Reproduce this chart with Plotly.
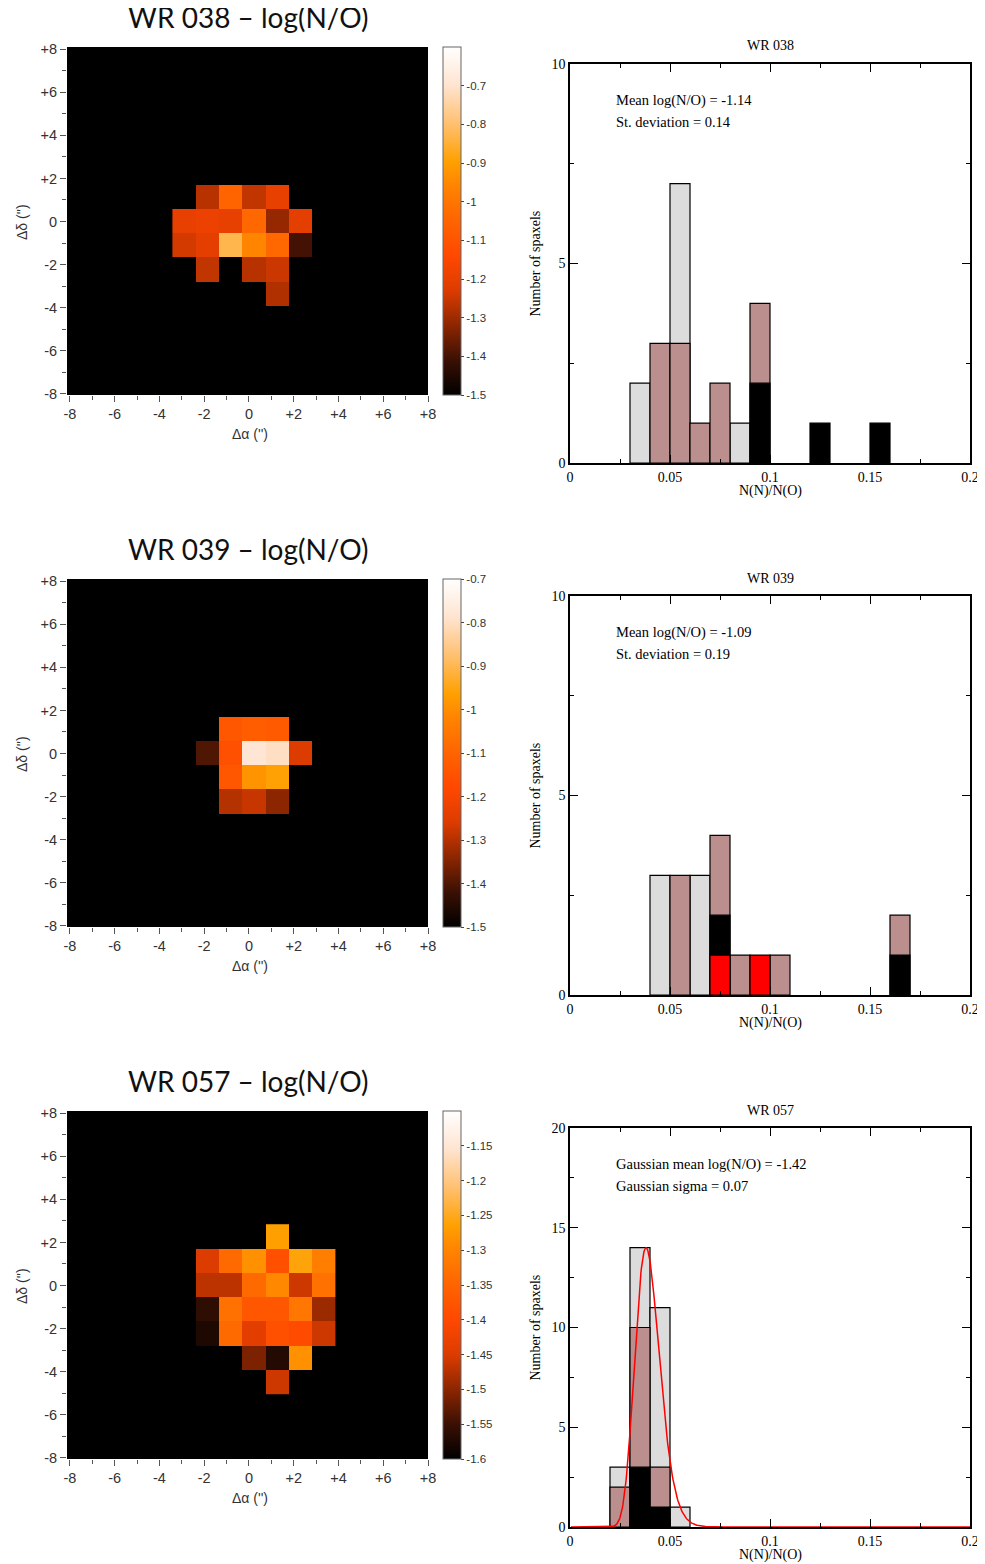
import numpy as np
import plotly.graph_objects as go

# page has an 8px body margin; figure is sized so that reference pixel p maps to p-8
PAGE_OFF = 8
W, H = 985 - PAGE_OFF, 1564 - PAGE_OFF
N = None

# ---------------- data ----------------
OBJECTS = ["WR 038", "WR 039", "WR 057"]

# log(N/O) maps, rows top->bottom, columns left->right on a common spaxel grid
MAP_038 = [
    [N, N, N, N, N, N, N],
    [N, -1.27, -1.05, -1.26, -1.20, N, N],
    [-1.20, -1.19, -1.20, -1.04, -1.31, -1.21, N],
    [-1.24, -1.21, -0.83, -0.96, -1.04, -1.40, N],
    [N, -1.26, N, -1.27, -1.25, N, N],
    [N, N, N, N, -1.28, N, N],
    [N, N, N, N, N, N, N],
]
MAP_039 = [
    [N, N, N, N, N, N, N],
    [N, N, -1.14, -1.12, -1.13, N, N],
    [N, -1.40, -1.16, -0.78, -0.80, -1.26, N],
    [N, N, -1.14, -0.99, -0.96, N, N],
    [N, N, -1.30, -1.28, -1.34, N, N],
    [N, N, N, N, N, N, N],
    [N, N, N, N, N, N, N],
]
MAP_057 = [
    [N, N, N, N, -1.265, N, N],
    [N, -1.45, -1.34, -1.285, -1.385, -1.26, -1.31],
    [N, -1.47, -1.47, -1.34, -1.295, -1.46, -1.33],
    [N, -1.56, -1.33, -1.375, -1.375, -1.32, -1.49],
    [N, -1.575, -1.34, -1.44, -1.385, -1.395, -1.46],
    [N, N, N, -1.51, -1.57, -1.285, N],
    [N, N, N, N, -1.46, N, N],
]
ZRANGES = [(-1.5, -0.6), (-1.5, -0.7), (-1.6, -1.1)]
CB_TICKS = [
    [-1.5, -1.4, -1.3, -1.2, -1.1, -1.0, -0.9, -0.8, -0.7],
    [-1.5, -1.4, -1.3, -1.2, -1.1, -1.0, -0.9, -0.8, -0.7],
    [-1.6, -1.55, -1.5, -1.45, -1.4, -1.35, -1.3, -1.25, -1.2, -1.15],
]
MAP_TICKS = [-8, -6, -4, -2, 0, 2, 4, 6, 8]
MAP_TICKTEXT = ["-8", "-6", "-4", "-2", "0", "+2", "+4", "+6", "+8"]

# histograms: counts per 0.01 bin of N(N)/N(O), bins 0.00-0.01 ... 0.19-0.20
BIN_LEFT = [round(0.01 * i, 2) for i in range(20)]
H038_GRAY  = [0, 0, 0, 2, 0, 7, 0, 0, 1, 0, 0, 0, 0, 0, 0, 0, 0, 0, 0, 0]
H038_BROWN = [0, 0, 0, 0, 3, 3, 1, 2, 0, 4, 0, 0, 0, 0, 0, 0, 0, 0, 0, 0]
H038_BLACK = [0, 0, 0, 0, 0, 0, 0, 0, 0, 2, 0, 0, 1, 0, 0, 1, 0, 0, 0, 0]
H038_RED   = [0] * 20
H039_GRAY  = [0, 0, 0, 0, 3, 0, 3, 0, 0, 0, 0, 0, 0, 0, 0, 0, 0, 0, 0, 0]
H039_BROWN = [0, 0, 0, 0, 0, 3, 0, 4, 1, 0, 1, 0, 0, 0, 0, 0, 2, 0, 0, 0]
H039_BLACK = [0, 0, 0, 0, 0, 0, 0, 2, 0, 0, 0, 0, 0, 0, 0, 0, 1, 0, 0, 0]
H039_RED   = [0, 0, 0, 0, 0, 0, 0, 1, 0, 1, 0, 0, 0, 0, 0, 0, 0, 0, 0, 0]
H057_GRAY  = [0, 0, 3, 14, 11, 1, 0, 0, 0, 0, 0, 0, 0, 0, 0, 0, 0, 0, 0, 0]
H057_BROWN = [0, 0, 2, 10, 3, 0, 0, 0, 0, 0, 0, 0, 0, 0, 0, 0, 0, 0, 0, 0]
H057_BLACK = [0, 0, 0, 3, 1, 0, 0, 0, 0, 0, 0, 0, 0, 0, 0, 0, 0, 0, 0, 0]
H057_RED   = [0] * 20
HIST_YMAX = [10, 10, 20]
STATS_TEXT = [
    ["Mean log(N/O) = -1.14", "St. deviation = 0.14"],
    ["Mean log(N/O) = -1.09", "St. deviation = 0.19"],
    ["Gaussian mean log(N/O) = -1.42", "Gaussian sigma = 0.07"],
]
GAUSS_MEAN_LOG = -1.42
GAUSS_SIGMA_LOG = 0.07
GAUSS_PEAK = 14

MAPS = [MAP_038, MAP_039, MAP_057]
HISTS = [
    (H038_GRAY, H038_BROWN, H038_BLACK, H038_RED),
    (H039_GRAY, H039_BROWN, H039_BLACK, H039_RED),
    (H057_GRAY, H057_BROWN, H057_BLACK, H057_RED),
]

# ---------------- style ----------------
COLORSCALE = [
    [0.0, "#000000"], [0.1, "#3a1004"], [0.2, "#8c2600"], [0.3, "#dc3c00"],
    [0.4, "#ff4800"], [0.5, "#ff6400"], [0.6, "#ff8400"], [0.67, "#ffa000"],
    [0.78, "#ffc070"], [0.89, "#ffe4d0"], [1.0, "#ffffff"],
]
BAR_COLORS = ["#dcdcdc", "#bc8f8f", "#000000", "#ff0000"]
SERIF = "Liberation Serif"
SANS = "Liberation Sans"
TITLE_FONT = "Lato"

# grid geometry of spaxels (axis units)
GX0, GDX = -2.90, 1.04
GY_TOP, GDY = 2.28, 1.13

ROW_OFF = [0, 532, 1064]


def px_x(p):
    return (p - PAGE_OFF) / W


def px_y(p):
    return 1 - (p - PAGE_OFF) / H


def label(text, x, y, family, size, color="black", angle=0, xanchor="center"):
    return dict(text=text, x=px_x(x), y=px_y(y), xref="paper", yref="paper",
                showarrow=False, xanchor=xanchor, yanchor="middle", textangle=angle,
                font=dict(family=family, size=size, color=color))


fig = go.Figure()
layout = {}
annotations = []
shapes = []

for k in range(3):
    off = ROW_OFF[k]
    mi = 2 * k + 1      # map axis index
    hi = 2 * k + 2      # hist axis index
    mx, my = ("x" if mi == 1 else f"x{mi}"), ("y" if mi == 1 else f"y{mi}")
    hx, hy = f"x{hi}", f"y{hi}"

    # ---------- map ----------
    z = [[np.nan if v is None else v for v in row] for row in MAPS[k]][::-1]
    nrows = len(z)
    zmin, zmax = ZRANGES[k]
    ticks = CB_TICKS[k]
    ticktext = [("%g" % t) for t in ticks]
    top, bot = 47 + off, 395 + off
    fig.add_trace(go.Heatmap(
        z=z, x0=GX0, dx=GDX, y0=GY_TOP - GDY * (nrows - 1), dy=GDY,
        zmin=zmin, zmax=zmax, colorscale=COLORSCALE, hoverongaps=False,
        xaxis=mx, yaxis=my,
        colorbar=dict(
            x=px_x(443), xanchor="left", xpad=0, ypad=0,
            y=px_y((top + bot) / 2), yanchor="middle",
            len=bot - top, lenmode="pixels", thickness=18, thicknessmode="pixels",
            outlinewidth=1, outlinecolor="#666666",
            tickvals=ticks, ticktext=ticktext, ticks="outside", ticklen=3,
            tickcolor="#444444", tickfont=dict(family=SANS, size=11.5, color="#333333"),
        ),
    ))
    layout["xaxis" if mi == 1 else f"xaxis{mi}"] = dict(
        domain=[px_x(67), px_x(428)], range=[-8.13, 8.0], anchor=my,
        tickvals=MAP_TICKS, ticktext=MAP_TICKTEXT, ticks="outside", ticklen=6,
        tickcolor="#555555", showgrid=False, zeroline=False, showline=False,
        tickfont=dict(family=SANS, size=14.5, color="#333333"),
        minor=dict(dtick=1, ticks="outside", ticklen=4, tickcolor="#555555"),
    )
    layout["yaxis" if mi == 1 else f"yaxis{mi}"] = dict(
        domain=[px_y(bot), px_y(top)], range=[-8.05, 8.1], anchor=mx,
        tickvals=MAP_TICKS, ticktext=MAP_TICKTEXT, ticks="outside", ticklen=6,
        tickcolor="#555555", showgrid=False, zeroline=False, showline=False,
        tickfont=dict(family=SANS, size=14.5, color="#333333"),
        minor=dict(dtick=1, ticks="outside", ticklen=4, tickcolor="#555555"),
    )
    shapes.append(dict(type="rect", xref=f"{mx} domain", yref=f"{my} domain",
                       x0=0, x1=1, y0=0, y1=1, fillcolor="black",
                       line=dict(width=0), layer="below"))
    annotations.append(label(f"{OBJECTS[k]} \u2013 log(N/O)", 248, 17 + off, TITLE_FONT, 28, "#111111"))
    annotations.append(label("\u0394\u03b1 ('')", 250, 434 + off, SANS, 14, "#333333"))
    annotations.append(label("\u0394\u03b4 ('')", 22, 222 + off, SANS, 14, "#333333", angle=-90))

    # ---------- histogram ----------
    htop, hbot = 64 + off, 463 + off
    for series, color in zip(HISTS[k], BAR_COLORS):
        xs = [b + 0.005 for b, c in zip(BIN_LEFT, series) if c > 0]
        ys = [c for c in series if c > 0]
        if not xs:
            continue
        fig.add_trace(go.Bar(
            x=xs, y=ys, width=0.01, xaxis=hx, yaxis=hy, showlegend=False,
            marker=dict(color=color, opacity=1, line=dict(color="black", width=1.2)),
        ))
    if k == 2:
        gx = np.linspace(0.0005, 0.2, 800)
        gy = GAUSS_PEAK * np.exp(-(np.log10(gx) - GAUSS_MEAN_LOG) ** 2 / (2 * GAUSS_SIGMA_LOG ** 2))
        fig.add_trace(go.Scatter(x=gx, y=gy, mode="lines", xaxis=hx, yaxis=hy,
                                 line=dict(color="#ff0000", width=1.5), showlegend=False))
    ymax = HIST_YMAX[k]
    layout[f"xaxis{hi}"] = dict(
        domain=[px_x(570), px_x(970)], range=[0, 0.2], anchor=hy,
        tickvals=[0, 0.05, 0.1, 0.15, 0.2], ticktext=["0", "0.05", "0.1", "0.15", "0.2"],
        ticks="inside", ticklen=8, tickwidth=1, tickcolor="black",
        showline=True, linewidth=1.5, linecolor="black", mirror="allticks",
        showgrid=False, zeroline=False,
        tickfont=dict(family=SERIF, size=14, color="black"),
        minor=dict(dtick=0.025, ticks="inside", ticklen=4, tickcolor="black"),
    )
    layout[f"yaxis{hi}"] = dict(
        domain=[px_y(hbot), px_y(htop)], range=[0, ymax], anchor=hx,
        dtick=5, ticks="inside", ticklen=8, tickwidth=1, tickcolor="black",
        showline=True, linewidth=1.5, linecolor="black", mirror="allticks",
        showgrid=False, zeroline=False,
        tickfont=dict(family=SERIF, size=14, color="black"),
        minor=dict(dtick=2.5, ticks="inside", ticklen=4, tickcolor="black"),
    )
    annotations.append(label(OBJECTS[k], 770, htop - 18, SERIF, 14))
    annotations.append(label("N(N)/N(O)", 770, hbot + 28, SERIF, 14))
    annotations.append(label("Number of spaxels", 535, (htop + hbot) / 2, SERIF, 14, angle=-90))
    for j, line in enumerate(STATS_TEXT[k]):
        annotations.append(label(line, 614, htop + 36 + 22 * j, SERIF, 14.5, xanchor="left"))

fig.update_layout(
    width=W, height=H, margin=dict(l=0, r=0, t=0, b=0, autoexpand=False),
    paper_bgcolor="white", plot_bgcolor="white", barmode="overlay",
    showlegend=False, annotations=annotations, shapes=shapes, **layout,
)
fig.write_html("out.html")
